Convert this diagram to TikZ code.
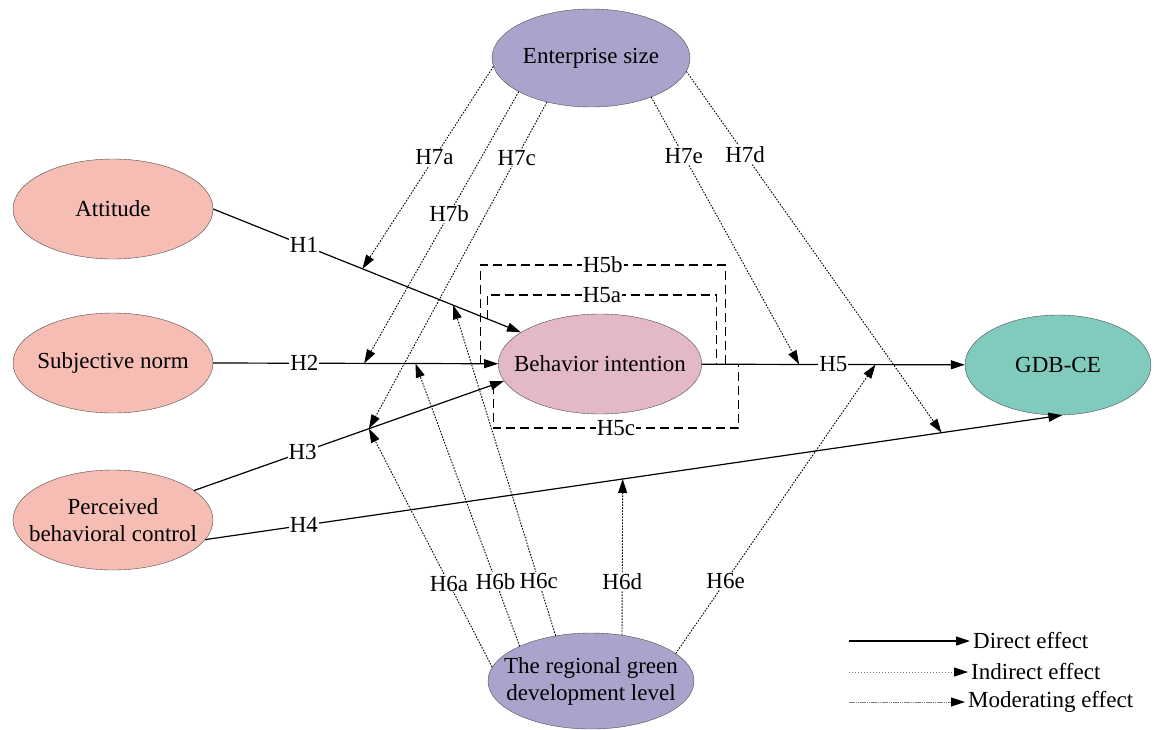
\documentclass[tikz,border=0pt]{standalone}
\usepackage{fontspec}
\setmainfont{Liberation Serif}
\usepackage{tikz}
\usetikzlibrary{shapes,arrows.meta,positioning}

\definecolor{salmon}{RGB}{246,189,180}
\definecolor{mauve}{RGB}{228,185,198}
\definecolor{lavender}{RGB}{170,164,204}
\definecolor{gdbgreen}{RGB}{128,203,190}

\begin{document}
\begin{tikzpicture}[x=1pt, y=-1pt, every node/.style={font=\fontsize{23}{27}\selectfont}]
        \tikzstyle{factor} = [ellipse, draw=black!70, thin, inner sep=-14pt,
            minimum width=200pt, minimum height=100pt, align=center]
        \tikzstyle{direct} = [-{Triangle[length=14pt,width=9pt]}, line width=1.2pt]
        \tikzstyle{moder} = [-{Triangle[length=14pt,width=9pt]}, line width=0.9pt, dash pattern=on 1.6pt off 1.4pt]
        \tikzstyle{hbox} = [line width=1.1pt, dash pattern=on 9pt off 5pt]
        \tikzstyle{lab} = [fill=white, inner sep=1pt]

        \useasboundingbox (0,0) rectangle (1161,729);

        \node (es) [factor, fill=lavender, minimum width=198pt, minimum height=98pt] at (591,58) {Enterprise size};
        \node (att) [factor, fill=salmon] at (113,209) {Attitude};
        \node (sn) [factor, fill=salmon] at (113,363) {Subjective norm};
        \node (pbc) [factor, fill=salmon] at (113,520) {Perceived\\behavioral control};
        \node (bi) [factor, fill=mauve] at (600,364) {Behavior intention};
        \node (gdb) [factor, fill=gdbgreen, minimum width=186pt] at (1058,365) {GDB-CE};
        \node (rg) [factor, fill=lavender, minimum width=198pt, minimum height=96pt] at (591,681) {The regional green\\development level};

        % direct effects
        \draw [direct] (att.east) -- node[lab, pos=0.295] {H1}
            coordinate[pos=0.485] (h7a) coordinate[pos=0.78] (h6c) coordinate[pos=0.89] (h5a1) (bi);
        \draw [direct] (sn.east) -- node[lab, pos=0.32] {H2}
            coordinate[pos=0.53] (h7b) coordinate[pos=0.71] (h6b) coordinate[pos=0.937] (h5b1) (bi);
        \draw [direct] (pbc.20) -- node[lab, pos=0.35] {H3}
            coordinate[pos=0.564] (h3m) coordinate[pos=0.965] (h5c1) (bi.190);
        \draw [direct] (pbc.-12) -- node[lab, pos=0.115] {H4}
            coordinate[pos=0.487] (h6d) coordinate[pos=0.859] (h7d) (gdb.-85);
        \draw [direct] (bi) -- node[lab, pos=0.5] {H5}
            coordinate[pos=0.057] (h5a2) coordinate[pos=0.09] (h5b2) coordinate[pos=0.14] (h5c2)
            coordinate[pos=0.37] (h7e) coordinate[pos=0.66] (h6e) (gdb);

        % mediation brackets
        \draw [hbox] (h5a1) -- (h5a1 |- 0,295) -- node[lab] {H5a} (h5a2 |- 0,295) -- (h5a2);
        \draw [hbox] (h5b1) -- (h5b1 |- 0,265) -- node[lab] {H5b} (h5b2 |- 0,265) -- (h5b2);
        \draw [hbox] (h5c1) -- (h5c1 |- 0,428) -- node[lab] {H5c} (h5c2 |- 0,428) -- (h5c2);

        % moderating effects
        \draw [moder] (es.185) -- node[lab, pos=0.45] {H7a} (h7a);
        \draw [moder] (es.205) -- node[lab, pos=0.45] {H7b} (h7b);
        \draw [moder] (es.225) -- node[lab, pos=0.17] {H7c} (h3m);
        \draw [moder] (es.-33) -- node[lab, pos=0.22] {H7e} (h7e);
        \draw [moder] (es.-8) -- node[lab, pos=0.23] {H7d} (h7d);
        \draw [moder] (rg.172) -- node[lab, pos=0.35] {H6a} (h3m);
        \draw [moder] (rg.154) -- node[lab, pos=0.23] {H6b} (h6b);
        \draw [moder] (rg.128) -- node[lab, pos=0.165] {H6c} (h6c);
        \draw [moder] (rg.56) -- node[lab, pos=0.34] {H6d} (h6d);
        \draw [moder] (rg.18) -- node[lab, pos=0.25] {H6e} (h6e);

        % legend
        \coordinate (d0) at (849,641);
        \coordinate (i0) at (849,672);
        \coordinate (m0) at (849,702);
        \node (dtxt) [right=121pt of d0, inner sep=3pt] {Direct effect};
        \node (itxt) [right=119pt of i0, inner sep=3pt] {Indirect effect};
        \node (mtxt) [right=116pt of m0, inner sep=3pt] {Moderating effect};
        \draw [direct] (d0) -- (dtxt);
        \draw [-{Triangle[length=14pt,width=9pt,black]}, line width=0.9pt, draw=black!55, dash pattern=on 1.2pt off 1.8pt] (i0) -- (itxt);
        \draw [-{Triangle[length=14pt,width=9pt,black]}, line width=1pt, draw=black!50, dash pattern=on 1.5pt off 0.7pt] (m0) -- (mtxt);
    \end{tikzpicture}
\end{document}
